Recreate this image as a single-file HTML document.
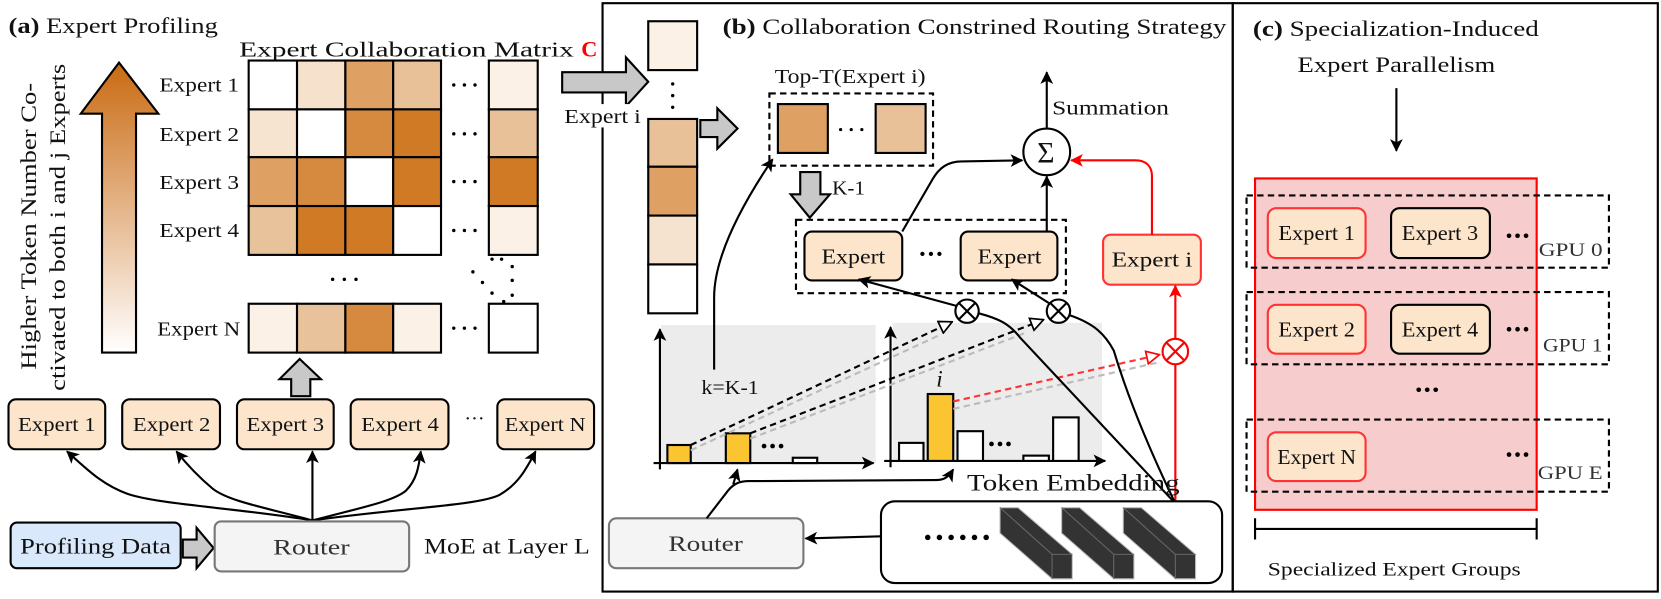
<!DOCTYPE html>
<html><head><meta charset="utf-8"><style>
html,body{margin:0;padding:0;background:#fff;}
svg{display:block;}
text{font-family:"Liberation Serif",serif;fill:#111;}
text.red{fill:#f00;}
text.gray{fill:#333;}
</style></head><body>
<svg width="1661" height="599" viewBox="0 0 1563 564" preserveAspectRatio="none" xmlns="http://www.w3.org/2000/svg">
<defs>
<linearGradient id="ga" x1="0" y1="0" x2="0" y2="1">
<stop offset="0" stop-color="#c96a12"/><stop offset="1" stop-color="#ffffff"/>
</linearGradient>
<marker id="ar" viewBox="0 0 12 12" refX="11" refY="6" markerWidth="12" markerHeight="12" markerUnits="userSpaceOnUse" orient="auto">
<path d="M0,0 L12,6 L0,12 L3,6 Z" fill="#000"/></marker>
<marker id="arr" viewBox="0 0 12 12" refX="11" refY="6" markerWidth="12" markerHeight="12" markerUnits="userSpaceOnUse" orient="auto">
<path d="M0,0 L12,6 L0,12 L3,6 Z" fill="#f00"/></marker>
<marker id="tri" viewBox="0 0 14 14" refX="13" refY="7" markerWidth="14" markerHeight="14" markerUnits="userSpaceOnUse" orient="auto">
<path d="M1,1 L13,7 L1,13 Z" fill="#fff" stroke="#000" stroke-width="1.6"/></marker>
<marker id="trir" viewBox="0 0 14 14" refX="13" refY="7" markerWidth="14" markerHeight="14" markerUnits="userSpaceOnUse" orient="auto">
<path d="M1,1 L13,7 L1,13 Z" fill="#fff" stroke="#f00" stroke-width="1.6"/></marker>
</defs>

<!-- ========== Panel (a) ========== -->
<text x="8" y="31" font-size="21" textLength="197" lengthAdjust="spacingAndGlyphs"><tspan font-weight="bold">(a)</tspan> Expert Profiling</text>
<path d="M112,59 L149,107 L128,107 L128,332 L96,332 L96,107 L76,107 Z" fill="url(#ga)" stroke="#000" stroke-width="2"/>
<text transform="translate(34,348) rotate(-90)" x="0" y="0" font-size="21" textLength="270" lengthAdjust="spacingAndGlyphs">Higher Token Number Co-</text>
<text transform="translate(61,368) rotate(-90)" x="0" y="0" font-size="21" textLength="308" lengthAdjust="spacingAndGlyphs">ctivated to both i and j Experts</text>

<text x="225" y="53" font-size="20" textLength="315" lengthAdjust="spacingAndGlyphs">Expert Collaboration Matrix</text>
<text x="547" y="53" font-size="21" class="red" font-weight="bold">C</text>
<g stroke="#000" stroke-width="2">
<rect x="234" y="57" width="45.5" height="46" fill="#fff"/>
<rect x="279.5" y="57" width="45.5" height="46" fill="#f5e1cc"/>
<rect x="325" y="57" width="45" height="46" fill="#dea063"/>
<rect x="370" y="57" width="45" height="46" fill="#e8c199"/>
<rect x="460" y="57" width="46" height="46" fill="#fbf1e6"/>
<rect x="234" y="103" width="45.5" height="45" fill="#f7e4d0"/>
<rect x="279.5" y="103" width="45.5" height="45" fill="#fff"/>
<rect x="325" y="103" width="45" height="45" fill="#d68a3f"/>
<rect x="370" y="103" width="45" height="45" fill="#d07a26"/>
<rect x="460" y="103" width="46" height="45" fill="#e8c199"/>
<rect x="234" y="148" width="45.5" height="46" fill="#dea063"/>
<rect x="279.5" y="148" width="45.5" height="46" fill="#d68a3f"/>
<rect x="325" y="148" width="45" height="46" fill="#fff"/>
<rect x="370" y="148" width="45" height="46" fill="#d07a26"/>
<rect x="460" y="148" width="46" height="46" fill="#d07a26"/>
<rect x="234" y="194" width="45.5" height="46" fill="#e8c29a"/>
<rect x="279.5" y="194" width="45.5" height="46" fill="#d07a26"/>
<rect x="325" y="194" width="45" height="46" fill="#d07a26"/>
<rect x="370" y="194" width="45" height="46" fill="#fff"/>
<rect x="460" y="194" width="46" height="46" fill="#fbf1e6"/>
<rect x="234" y="286" width="45.5" height="46" fill="#fbf1e6"/>
<rect x="279.5" y="286" width="45.5" height="46" fill="#e8c29a"/>
<rect x="325" y="286" width="45" height="46" fill="#d68a3f"/>
<rect x="370" y="286" width="45" height="46" fill="#fbf1e6"/>
<rect x="460" y="286" width="46" height="46" fill="#fff"/>
</g>
<g font-size="19">
<text x="150" y="86" textLength="75" lengthAdjust="spacingAndGlyphs">Expert 1</text>
<text x="150" y="133" textLength="75" lengthAdjust="spacingAndGlyphs">Expert 2</text>
<text x="150" y="178" textLength="75" lengthAdjust="spacingAndGlyphs">Expert 3</text>
<text x="150" y="223" textLength="75" lengthAdjust="spacingAndGlyphs">Expert 4</text>
<text x="148" y="316" textLength="78" lengthAdjust="spacingAndGlyphs">Expert N</text>
</g>
<g fill="#000">
<circle cx="427" cy="80" r="1.6"/><circle cx="437" cy="80" r="1.6"/><circle cx="447" cy="80" r="1.6"/>
<circle cx="427" cy="126" r="1.6"/><circle cx="437" cy="126" r="1.6"/><circle cx="447" cy="126" r="1.6"/>
<circle cx="427" cy="171" r="1.6"/><circle cx="437" cy="171" r="1.6"/><circle cx="447" cy="171" r="1.6"/>
<circle cx="427" cy="217" r="1.6"/><circle cx="437" cy="217" r="1.6"/><circle cx="447" cy="217" r="1.6"/>
<circle cx="427" cy="309" r="1.6"/><circle cx="437" cy="309" r="1.6"/><circle cx="447" cy="309" r="1.6"/>
<circle cx="313" cy="263" r="1.6"/><circle cx="324" cy="263" r="1.6"/><circle cx="335" cy="263" r="1.6"/>
<circle cx="445" cy="256" r="1.6"/><circle cx="454" cy="266" r="1.6"/><circle cx="463" cy="276" r="1.6"/><circle cx="474" cy="284" r="1.6"/>
<circle cx="463" cy="244" r="1.6"/><circle cx="472" cy="244" r="1.6"/>
<circle cx="482" cy="251" r="1.6"/><circle cx="482" cy="264" r="1.6"/><circle cx="482" cy="278" r="1.6"/>
</g>
<path d="M282,338 L302,357 L292,357 L292,373 L274,373 L274,357 L263,357 Z" fill="#c8c8c8" stroke="#000" stroke-width="2"/>

<g stroke="#000" stroke-width="2" fill="#fde5cc">
<rect x="8" y="376" width="91" height="47" rx="7"/>
<rect x="115" y="376" width="92" height="47" rx="7"/>
<rect x="223" y="376" width="91" height="47" rx="7"/>
<rect x="330" y="376" width="92" height="47" rx="7"/>
<rect x="468" y="376" width="91" height="47" rx="7"/>
</g>
<g font-size="19">
<text x="17" y="406" textLength="73" lengthAdjust="spacingAndGlyphs">Expert 1</text>
<text x="125" y="406" textLength="73" lengthAdjust="spacingAndGlyphs">Expert 2</text>
<text x="232" y="406" textLength="73" lengthAdjust="spacingAndGlyphs">Expert 3</text>
<text x="340" y="406" textLength="73" lengthAdjust="spacingAndGlyphs">Expert 4</text>
<text x="437" y="400">···</text>
<text x="475" y="406" textLength="76" lengthAdjust="spacingAndGlyphs">Expert N</text>
</g>
<g stroke="#000" stroke-width="2" fill="none" marker-end="url(#ar)">
<path d="M294,490 C220,478 150,475 120,465 C95,456 80,440 63,425"/>
<path d="M294,490 C250,478 215,472 200,460 C188,450 178,440 166,425"/>
<path d="M294,490 L294,425"/>
<path d="M294,490 C340,478 370,472 382,462 C392,452 394,440 396,425"/>
<path d="M294,490 C380,478 450,476 470,466 C488,456 496,440 504,425"/>
</g>
<rect x="10" y="492" width="160" height="43" rx="6" fill="#dae8fc" stroke="#000" stroke-width="2"/>
<text x="19" y="521" font-size="21" textLength="142" lengthAdjust="spacingAndGlyphs">Profiling Data</text>
<path d="M172,508 L185,508 L185,497 L201,516 L185,535 L185,525 L172,525 Z" fill="#c8c8c8" stroke="#000" stroke-width="2"/>
<rect x="202" y="491" width="183" height="47" rx="6" fill="#f4f4f4" stroke="#777" stroke-width="2"/>
<text x="257" y="522" font-size="21" class="gray" textLength="72" lengthAdjust="spacingAndGlyphs">Router</text>
<text x="399" y="521" font-size="21" textLength="156" lengthAdjust="spacingAndGlyphs">MoE at Layer L</text>

<!-- ========== Panel borders ========== -->
<rect x="567" y="3" width="593" height="554" fill="none" stroke="#000" stroke-width="2"/>
<rect x="1160" y="3" width="400" height="554" fill="none" stroke="#000" stroke-width="2"/>

<!-- ========== Panel (b) ========== -->
<text x="680" y="32" font-size="21" textLength="474" lengthAdjust="spacingAndGlyphs"><tspan font-weight="bold">(b)</tspan> Collaboration Constrined Routing Strategy</text>
<path d="M529,68 L589,68 L589,54 L610,77 L589,100 L589,87 L529,87 Z" fill="#c8c8c8" stroke="#000" stroke-width="2"/>
<rect x="527" y="98" width="78" height="22" fill="#fff"/>
<text x="531" y="116" font-size="19" textLength="72" lengthAdjust="spacingAndGlyphs">Expert i</text>
<g stroke="#000" stroke-width="2">
<rect x="610" y="20" width="46" height="46" fill="#fbf1e6"/>
<rect x="610" y="112" width="46" height="45" fill="#e8c199"/>
<rect x="610" y="157" width="46" height="46" fill="#dea063"/>
<rect x="610" y="203" width="46" height="46" fill="#f5e2cf"/>
<rect x="610" y="249" width="46" height="46" fill="#fff"/>
</g>
<g fill="#000"><circle cx="633" cy="79" r="1.6"/><circle cx="633" cy="90" r="1.6"/><circle cx="633" cy="101" r="1.6"/></g>
<path d="M659,113 L675,113 L675,102 L694,121 L675,140 L675,129 L659,129 Z" fill="#c8c8c8" stroke="#000" stroke-width="2"/>

<text x="729" y="78" font-size="19" textLength="142" lengthAdjust="spacingAndGlyphs">Top-T(Expert i)</text>
<rect x="724" y="88" width="154" height="68" fill="none" stroke="#000" stroke-width="2" stroke-dasharray="6,4"/>
<rect x="732" y="98" width="47" height="46" fill="#dea063" stroke="#000" stroke-width="2"/>
<rect x="824" y="98" width="47" height="46" fill="#e8c199" stroke="#000" stroke-width="2"/>
<g fill="#000"><circle cx="791" cy="122" r="1.5"/><circle cx="801" cy="122" r="1.5"/><circle cx="811" cy="122" r="1.5"/></g>
<path d="M753,162 L772,162 L772,183 L781,183 L762,205 L744,183 L753,183 Z" fill="#c8c8c8" stroke="#000" stroke-width="2"/>
<text x="783" y="183" font-size="19" textLength="31" lengthAdjust="spacingAndGlyphs">K-1</text>

<rect x="749" y="207" width="254" height="69" fill="none" stroke="#000" stroke-width="2" stroke-dasharray="6,4"/>
<rect x="757" y="218" width="92" height="46" rx="7" fill="#fde5cc" stroke="#000" stroke-width="2"/>
<rect x="904" y="218" width="91" height="46" rx="7" fill="#fde5cc" stroke="#000" stroke-width="2"/>
<text x="773" y="248" font-size="20" textLength="60" lengthAdjust="spacingAndGlyphs">Expert</text>
<text x="920" y="248" font-size="20" textLength="60" lengthAdjust="spacingAndGlyphs">Expert</text>
<g fill="#000"><circle cx="868" cy="239" r="2"/><circle cx="876" cy="239" r="2"/><circle cx="884" cy="239" r="2"/></g>

<circle cx="985" cy="143" r="22" fill="#fff" stroke="#000" stroke-width="2"/>
<text x="976" y="153" font-size="28">Σ</text>
<path d="M985,121 L985,68" stroke="#000" stroke-width="2" marker-end="url(#ar)"/>
<text x="990" y="108" font-size="19" textLength="110" lengthAdjust="spacingAndGlyphs">Summation</text>
<path d="M985,218 L985,166" stroke="#000" stroke-width="2" marker-end="url(#ar)"/>
<path d="M849,218 L878,168 C884,158 892,152 905,152 L962,151" stroke="#000" stroke-width="2" fill="none" marker-end="url(#ar)"/>

<rect x="1038" y="221" width="92" height="47" rx="7" fill="#fde5cc" stroke="#f33" stroke-width="2"/>
<text x="1046" y="251" font-size="20" textLength="76" lengthAdjust="spacingAndGlyphs">Expert i</text>
<path d="M1084,221 L1084,166 C1084,156 1078,151 1068,151 L1008,151" stroke="#f00" stroke-width="2" fill="none" marker-end="url(#arr)"/>
<path d="M1106,474 L1106,343" stroke="#f00" stroke-width="2"/>
<path d="M1106,319 L1106,269" stroke="#f00" stroke-width="2" marker-end="url(#arr)"/>
<circle cx="1106" cy="331" r="12" fill="#fff" stroke="#f00" stroke-width="2"/>
<path d="M1098,323 L1114,339 M1114,323 L1098,339" stroke="#f00" stroke-width="2"/>

<!-- charts -->
<rect x="622" y="306" width="202" height="130" fill="#ececec"/>
<rect x="840" y="304" width="197" height="129" fill="#ececec"/>
<g stroke="#000" stroke-width="2" fill="none">
<path d="M621,442 L621,310" marker-end="url(#ar)"/>
<path d="M615,436 L822,436" marker-end="url(#ar)"/>
<path d="M838,440 L838,308" marker-end="url(#ar)"/>
<path d="M832,434 L1040,434" marker-end="url(#ar)"/>
</g>
<g stroke="#000" stroke-width="2">
<rect x="628" y="419" width="22" height="17" fill="#fbc531"/>
<rect x="683" y="408" width="23" height="28" fill="#fbc531"/>
<rect x="746" y="431" width="23" height="5" fill="#fff"/>
<rect x="846" y="417" width="23" height="17" fill="#fff"/>
<rect x="873" y="371" width="24" height="63" fill="#fbc531"/>
<rect x="901" y="406" width="24" height="28" fill="#fff"/>
<rect x="963" y="429" width="24" height="5" fill="#fff"/>
<rect x="991" y="393" width="24" height="41" fill="#fff"/>
</g>
<g fill="#000">
<circle cx="719" cy="420" r="2.2"/><circle cx="727" cy="420" r="2.2"/><circle cx="735" cy="420" r="2.2"/>
<circle cx="933" cy="418" r="2.2"/><circle cx="941" cy="418" r="2.2"/><circle cx="949" cy="418" r="2.2"/>
</g>
<text x="881" y="364" font-size="22" font-style="italic">i</text>
<path d="M672,348 L672,280 C672,240 700,190 727,150" stroke="#000" stroke-width="2" fill="none" marker-end="url(#ar)"/>
<text x="660" y="371" font-size="19" textLength="54" lengthAdjust="spacingAndGlyphs">k=K-1</text>

<g fill="none" stroke-width="2" stroke-dasharray="6,4">
<path d="M650,424 L883,316" stroke="#bbb"/>
<path d="M706,413 L966,313" stroke="#bbb"/>
<path d="M897,385 L1091,341" stroke="#bbb"/>
<path d="M650,419 L896,303" stroke="#000" marker-end="url(#tri)"/>
<path d="M706,408 L982,301" stroke="#000" marker-end="url(#tri)"/>
<path d="M897,378 L1091,334" stroke="#f33" marker-end="url(#trir)"/>
</g>

<g stroke="#000" stroke-width="2" fill="none">
<path d="M900,288 L808,263" marker-end="url(#ar)"/>
<path d="M988,286 L952,263" marker-end="url(#ar)"/>
<path d="M921,295 C940,300 950,305 960,318 L1106,474"/>
<path d="M1007,297 C1030,305 1040,315 1048,330 C1060,370 1080,420 1106,474"/>
</g>
<circle cx="910" cy="293" r="11" fill="#fff" stroke="#000" stroke-width="2"/>
<path d="M902,285 L918,301 M918,285 L902,301" stroke="#000" stroke-width="2"/>
<circle cx="996" cy="293" r="11" fill="#fff" stroke="#000" stroke-width="2"/>
<path d="M988,285 L1004,301 M1004,285 L988,301" stroke="#000" stroke-width="2"/>

<!-- token embedding -->
<rect x="829" y="472" width="321" height="77" rx="13" fill="#fff" stroke="#000" stroke-width="2"/>
<g fill="#000"><circle cx="873" cy="506" r="2.6"/><circle cx="884" cy="506" r="2.6"/><circle cx="895" cy="506" r="2.6"/><circle cx="906" cy="506" r="2.6"/><circle cx="917" cy="506" r="2.6"/><circle cx="928" cy="506" r="2.6"/></g>
<g fill="#333" stroke="#bbb" stroke-width="1">
<path d="M941,478 L958,478 L1009,522 L1009,545 L990,545 L941,502 Z"/>
<path d="M999,478 L1016,478 L1067,522 L1067,545 L1048,545 L999,502 Z"/>
<path d="M1057,478 L1074,478 L1125,522 L1125,545 L1106,545 L1057,502 Z"/>
</g>
<g fill="none" stroke="#666" stroke-width="1">
<path d="M941,478 L990,522 L990,545 M990,522 L1009,522"/>
<path d="M999,478 L1048,522 L1048,545 M1048,522 L1067,522"/>
<path d="M1057,478 L1106,522 L1106,545 M1106,522 L1125,522"/>
</g>
<text x="910" y="462" font-size="22" textLength="200" lengthAdjust="spacingAndGlyphs">Token Embedding</text>

<rect x="573" y="488" width="183" height="47" rx="7" fill="#f4f4f4" stroke="#777" stroke-width="2"/>
<text x="629" y="519" font-size="21" class="gray" textLength="70" lengthAdjust="spacingAndGlyphs">Router</text>
<path d="M829,505 L758,507" stroke="#000" stroke-width="2" marker-end="url(#ar)"/>
<path d="M665,488 L685,462 C690,456 695,453 705,453 L880,452 C888,452 892,450 897,442" stroke="#000" stroke-width="2" fill="none" marker-end="url(#ar)"/>
<path d="M690,456 L694,442" stroke="#000" stroke-width="2" marker-end="url(#ar)"/>

<!-- ========== Panel (c) ========== -->
<text x="1179" y="34" font-size="21" textLength="269" lengthAdjust="spacingAndGlyphs"><tspan font-weight="bold">(c)</tspan> Specialization-Induced</text>
<text x="1221" y="68" font-size="21" textLength="186" lengthAdjust="spacingAndGlyphs">Expert Parallelism</text>
<path d="M1314,83 L1314,142" stroke="#000" stroke-width="2" marker-end="url(#ar)"/>
<rect x="1181" y="168" width="265" height="312" fill="#f6cccc" stroke="#f00" stroke-width="2"/>
<g fill="none" stroke="#000" stroke-width="2" stroke-dasharray="6,4">
<rect x="1173" y="184" width="341" height="68"/>
<rect x="1173" y="275" width="341" height="68"/>
<rect x="1173" y="395" width="341" height="68"/>
</g>
<g stroke-width="2" fill="#fde5cc">
<rect x="1193" y="196" width="92" height="47" rx="8" stroke="#f33"/>
<rect x="1309" y="196" width="93" height="47" rx="8" stroke="#000"/>
<rect x="1193" y="287" width="92" height="46" rx="8" stroke="#f33"/>
<rect x="1309" y="287" width="93" height="46" rx="8" stroke="#000"/>
<rect x="1193" y="407" width="92" height="46" rx="8" stroke="#f33"/>
</g>
<g font-size="20">
<text x="1203" y="226" textLength="72" lengthAdjust="spacingAndGlyphs">Expert 1</text>
<text x="1319" y="226" textLength="72" lengthAdjust="spacingAndGlyphs">Expert 3</text>
<text x="1203" y="317" textLength="72" lengthAdjust="spacingAndGlyphs">Expert 2</text>
<text x="1319" y="317" textLength="72" lengthAdjust="spacingAndGlyphs">Expert 4</text>
<text x="1202" y="437" textLength="74" lengthAdjust="spacingAndGlyphs">Expert N</text>
</g>
<g fill="#000">
<circle cx="1420" cy="222" r="2.2"/><circle cx="1428" cy="222" r="2.2"/><circle cx="1436" cy="222" r="2.2"/>
<circle cx="1420" cy="310" r="2.2"/><circle cx="1428" cy="310" r="2.2"/><circle cx="1436" cy="310" r="2.2"/>
<circle cx="1420" cy="428" r="2.2"/><circle cx="1428" cy="428" r="2.2"/><circle cx="1436" cy="428" r="2.2"/>
<circle cx="1335" cy="367" r="2.2"/><circle cx="1343" cy="367" r="2.2"/><circle cx="1351" cy="367" r="2.2"/>
</g>
<g font-size="18">
<text x="1448" y="241" class="gray" textLength="60" lengthAdjust="spacingAndGlyphs">GPU 0</text>
<text x="1452" y="331" class="gray" textLength="56" lengthAdjust="spacingAndGlyphs">GPU 1</text>
<text x="1447" y="451" class="gray" textLength="61" lengthAdjust="spacingAndGlyphs">GPU E</text>
</g>
<path d="M1181,488 L1181,508 M1181,498 L1446,498 M1446,488 L1446,508" stroke="#000" stroke-width="2" fill="none"/>
<text x="1193" y="542" font-size="18" textLength="238" lengthAdjust="spacingAndGlyphs">Specialized Expert Groups</text>
</svg>
</body></html>
